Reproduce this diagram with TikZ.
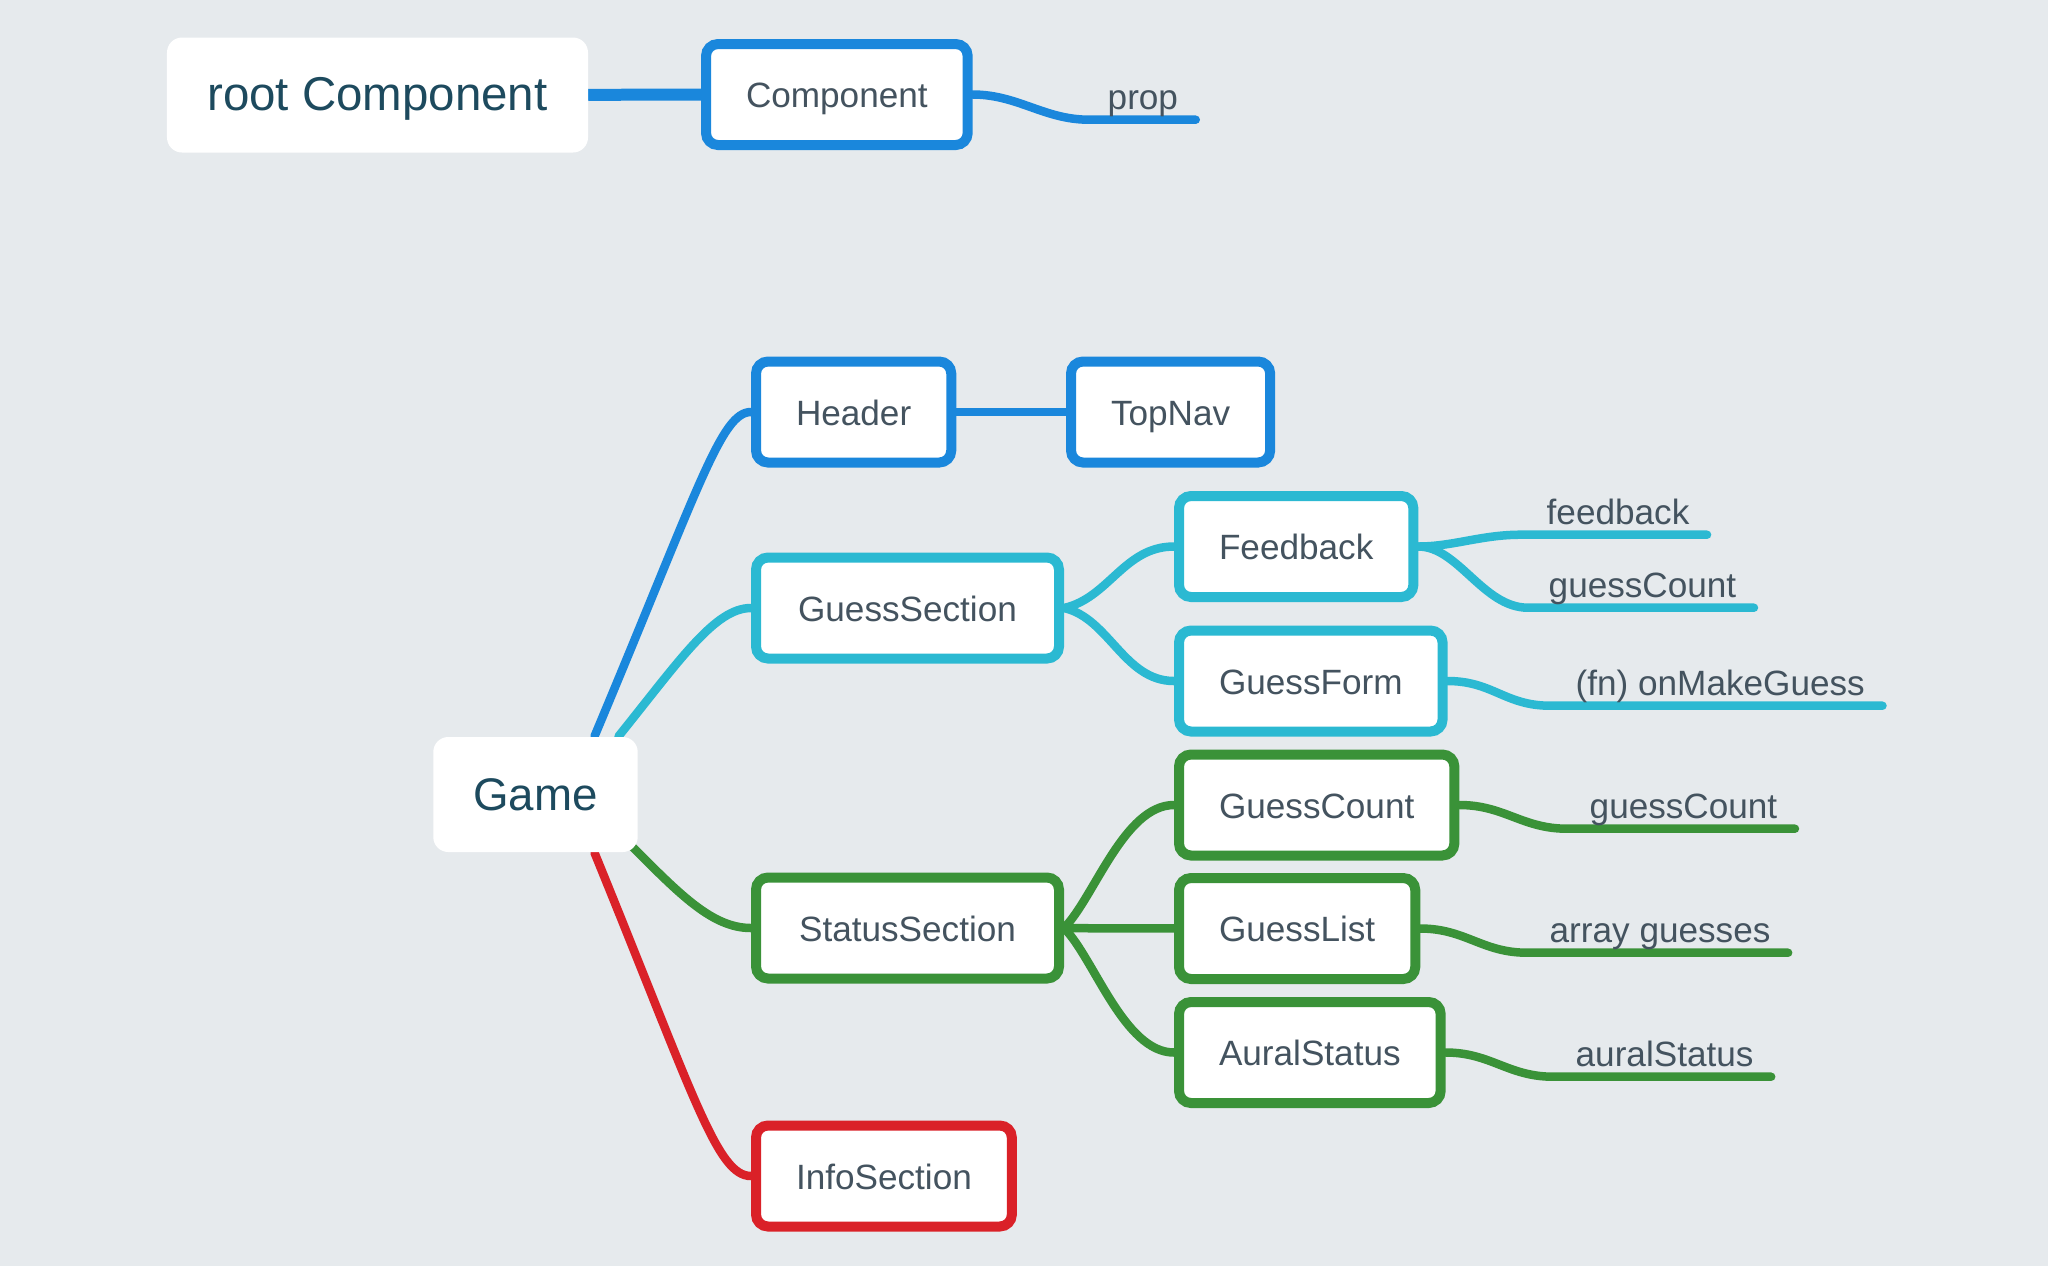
\documentclass[tikz,border=0pt]{standalone}
\usepackage{fontspec}
\setmainfont{Liberation Sans}
\usetikzlibrary{backgrounds}

\definecolor{bgcol}{HTML}{E6EAED}
\definecolor{mapblue}{HTML}{1A87DC}
\definecolor{mapcyan}{HTML}{2BB9D2}
\definecolor{mapgreen}{HTML}{3A9238}
\definecolor{mapred}{HTML}{DA2128}
\definecolor{labelgray}{HTML}{44535F}
\definecolor{rootteal}{HTML}{1D4A5E}

\tikzset{
    topic/.style={rectangle, rounded corners=0.15cm, fill=white, text=rootteal,
        font=\fontsize{13}{15}\selectfont, inner xsep=0.4cm, minimum height=1.15cm,
        text height=0.9em, text depth=0pt},
    box/.style={rectangle, rounded corners=0.12cm, fill=white, draw=#1, line width=0.1cm,
        text=labelgray, font=\fontsize{10}{12}\selectfont, inner xsep=0.4cm,
        minimum height=1.01cm, text height=0.74em, text depth=0pt, anchor=west},
    leaf/.style={text=labelgray, font=\fontsize{10}{12}\selectfont, inner xsep=0pt,
        inner ysep=0.1cm, text depth=0pt, anchor=base west},
    branch/.style={draw=#1, line width=0.085cm, line cap=round},
}

\begin{document}
\begin{tikzpicture}
    \useasboundingbox (0,0) rectangle (20.48,-12.66);
    % legend
    \node[topic, minimum width=4.21cm, font=\fontsize{13.5}{15}\selectfont] (root) at (3.775,-0.95) {root Component};
    \node[box=mapblue] (comp) at (7.01,-0.945) {Component};
    \node[leaf] (prop) at (11.07,-1.09) {prop};
    % tree
    \node[topic, minimum width=2.03cm] (game) at (5.355,-7.945) {Game};
    \begin{scope}[every node/.append style={box=mapblue}]
        \node (header) at (7.51,-4.12) {Header};
        \node (topnav) at (10.66,-4.12) {TopNav};
    \end{scope}
    \begin{scope}[every node/.append style={box=mapcyan}]
        \node[minimum width=3.03cm] (guesssec) at (7.51,-6.08) {GuessSection};
        \node (feedback) at (11.74,-5.465) {Feedback};
        \node (guessform) at (11.74,-6.81) {GuessForm};
    \end{scope}
    \begin{scope}[every node/.append style={box=mapgreen}]
        \node[minimum width=3.03cm] (statussec) at (7.51,-9.28) {StatusSection};
        \node (guesscount) at (11.74,-8.05) {GuessCount};
        \node (guesslist) at (11.74,-9.285) {GuessList};
        \node (auralstatus) at (11.74,-10.525) {AuralStatus};
    \end{scope}
    \node[box=mapred] (infosec) at (7.51,-11.76) {InfoSection};
    % leaf labels
    \node[leaf] (fbval) at (15.46,-5.24) {feedback};
    \node[leaf] (fbcount) at (15.48,-5.97) {guessCount};
    \node[leaf] (makeguess) at (15.75,-6.95) {(fn) onMakeGuess};
    \node[leaf] (countval) at (15.89,-8.18) {guessCount};
    \node[leaf] (guesses) at (15.49,-9.42) {array guesses};
    \node[leaf] (auralval) at (15.75,-10.66) {auralStatus};

    \begin{pgfonlayer}{background}
        \fill[bgcol] (0,0) rectangle (20.48,-12.66);
        \draw[branch=mapblue, line width=0.12cm] (root) -- (comp);
        \draw[branch=mapblue] (comp.east) .. controls +(0.45,0) and +(-0.45,0) .. ([xshift=-0.18cm]prop.south west) -- ([xshift=0.17cm]prop.south east);
        % branches of Game
        \draw[branch=mapblue] ([xshift=0.59cm]game.north) .. controls +(1.05,2.5) and +(-0.3,0) .. (header.west);
        \draw[branch=mapcyan] ([xshift=0.83cm]game.north) .. controls +(0.62,0.77) and +(-0.36,0) .. (guesssec.west);
        \draw[branch=mapgreen] ([xshift=-0.17cm,yshift=0.17cm]game.south east) .. controls +(0.55,-0.55) and +(-0.41,0) .. (statussec.west);
        \draw[branch=mapred] ([xshift=0.59cm]game.south) .. controls +(1.0,-2.45) and +(-0.34,0) .. (infosec.west);
        \draw[branch=mapblue] (header) -- (topnav);
        % second level
        \draw[branch=mapcyan] (guesssec.east) .. controls +(0.45,0.1) and +(-0.5,0) .. (feedback.west);
        \draw[branch=mapcyan] (guesssec.east) .. controls +(0.45,-0.1) and +(-0.5,0) .. (guessform.west);
        \draw[branch=mapgreen] (statussec.east) .. controls +(0.3,0.3) and +(-0.5,0) .. (guesscount.west);
        \draw[branch=mapgreen] (statussec) -- (guesslist);
        \draw[branch=mapgreen] (statussec.east) .. controls +(0.3,-0.3) and +(-0.5,0) .. (auralstatus.west);
        % leaves
        \draw[branch=mapcyan] (feedback.east) .. controls +(0.35,0) and +(-0.4,0) .. ([xshift=-0.25cm]fbval.south west) -- ([xshift=0.17cm]fbval.south east);
        \draw[branch=mapcyan] (feedback.east) .. controls +(0.4,0) and +(-0.45,0) .. ([xshift=-0.2cm]fbcount.south west) -- ([xshift=0.17cm]fbcount.south east);
        \draw[branch=mapcyan] (guessform.east) .. controls +(0.45,0) and +(-0.45,0) .. ([xshift=-0.25cm]makeguess.south west) -- ([xshift=0.17cm]makeguess.south east);
        \draw[branch=mapgreen] (guesscount.east) .. controls +(0.45,0) and +(-0.45,0) .. ([xshift=-0.22cm]countval.south west) -- ([xshift=0.17cm]countval.south east);
        \draw[branch=mapgreen] (guesslist.east) .. controls +(0.45,0) and +(-0.45,0) .. ([xshift=-0.22cm]guesses.south west) -- ([xshift=0.17cm]guesses.south east);
        \draw[branch=mapgreen] (auralstatus.east) .. controls +(0.45,0) and +(-0.45,0) .. ([xshift=-0.22cm]auralval.south west) -- ([xshift=0.17cm]auralval.south east);
    \end{pgfonlayer}
\end{tikzpicture}
\end{document}
